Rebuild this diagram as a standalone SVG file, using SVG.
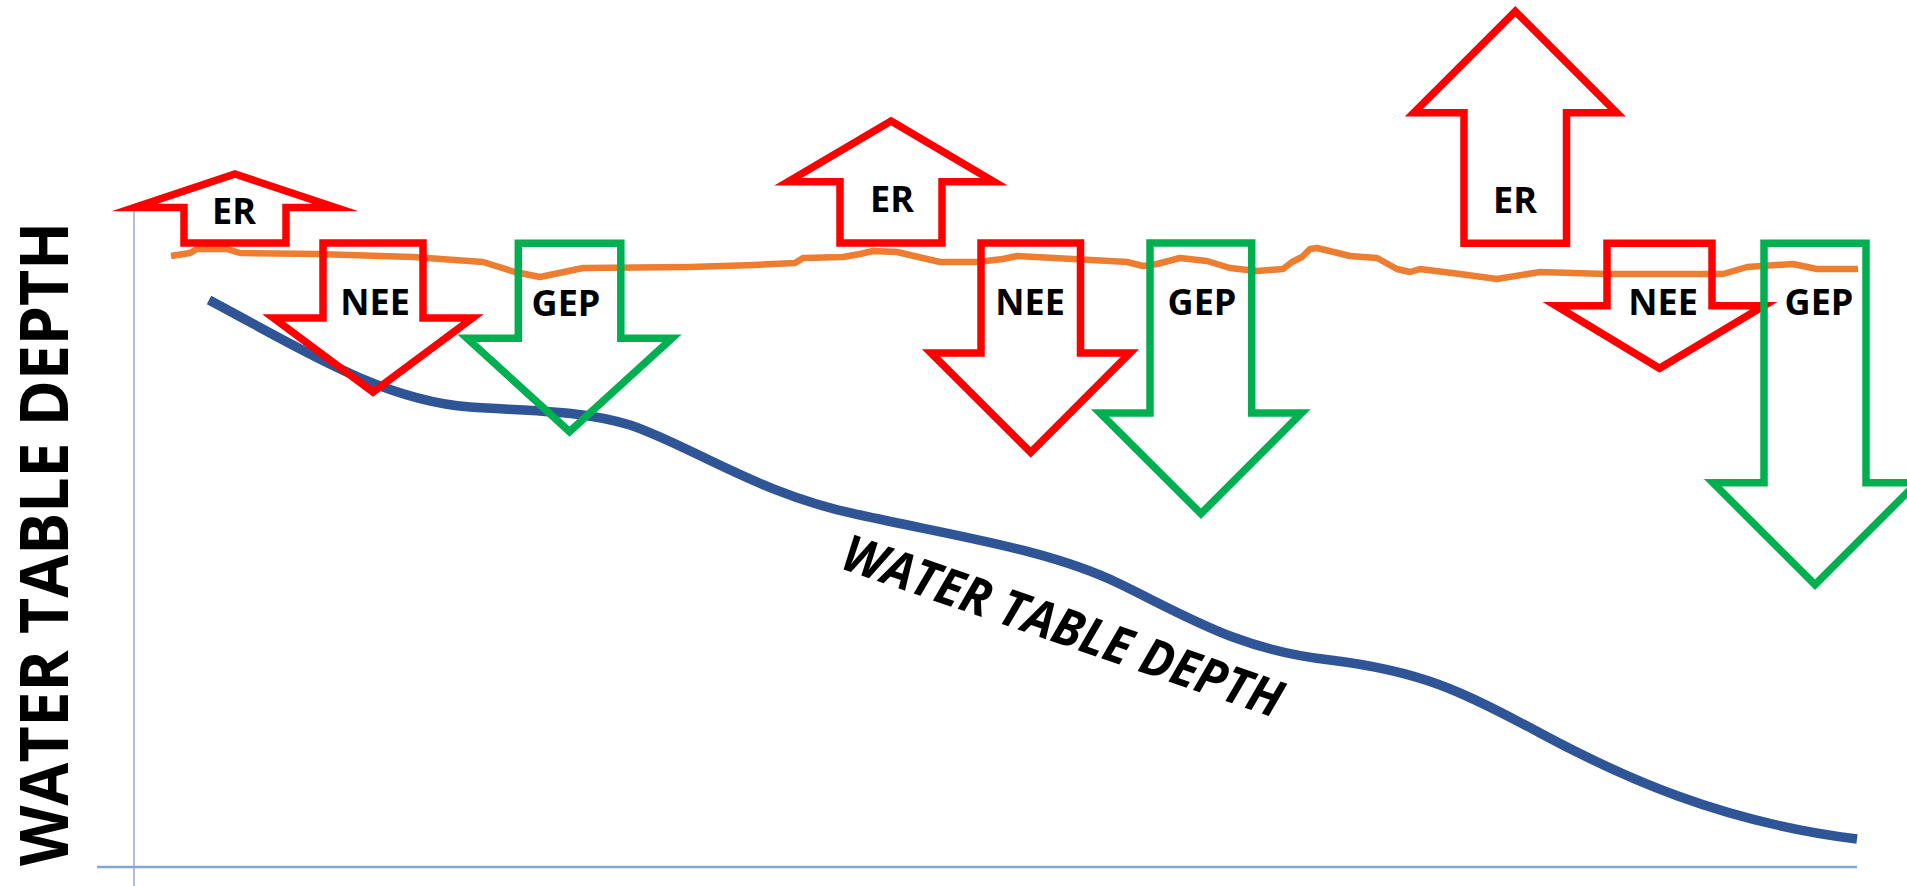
<svg xmlns="http://www.w3.org/2000/svg" width="1907" height="886" viewBox="0 0 1907 886">
<style>
.arrow{fill:none;stroke-width:7.5;stroke-linejoin:miter;stroke-miterlimit:12}
.red{stroke:#FF0000}
.green{stroke:#00B050}
.lbl{font-family:"Open Sans","Noto Sans","Liberation Sans",sans-serif;font-weight:700;font-size:36px;fill:#000;text-anchor:middle}
.big{font-family:"Open Sans","Noto Sans","Liberation Sans",sans-serif;font-weight:700;fill:#000;text-anchor:middle}
</style>
<rect width="1907" height="886" fill="#fff"/>
<g id="connectors">
  <line x1="134" y1="211" x2="134" y2="886" stroke="#8FAADC" stroke-width="1.5"/>
  <line x1="97" y1="867" x2="1857" y2="867" stroke="#85A5DB" stroke-width="2.5"/>
  <path id="water-table" d="M209,300 C300,348 380,400 470,407 C530,411 580,410 630,425 C690,445 760,495 860,515 C960,537 1050,550 1120,584 C1190,618 1240,650 1330,660 C1420,671 1460,690 1540,733 C1620,776 1720,822 1857,839" fill="none" stroke="#2F5597" stroke-width="9.5"/>
  <polyline id="surface" points="171,256 190,253 197,249 227,249 240,253 317,254 413,257 483,262 515,272 540,277 583,268 690,267 754,265 795,263 803,258 843,257 860,254 873,251 897,252 940,262 977,262 1003,259 1017,256 1110,261 1127,262 1143,266 1157,264 1180,258 1207,261 1230,268 1257,271 1283,269 1292,262 1302,257 1310,249 1317,248 1350,256 1377,258 1397,269 1410,272 1420,269 1460,274 1497,279 1540,272 1607,274 1723,274 1747,267 1793,264 1817,269 1858,269" fill="none" stroke="#ED7D31" stroke-width="6.5" stroke-linejoin="round"/>
</g>
<g id="er1">
  <polygon class="arrow red" points="235,174 335.5,207.5 286,207.5 286,243 184,243 184,207.5 134.5,207.5"/>
  <text class="lbl" x="234" y="224">ER</text>
</g>
<g id="nee1">
  <polygon class="arrow red" points="323,243 423,243 423,318 472.5,318 373,392 273.5,318 323,318"/>
  <text class="lbl" x="375" y="315">NEE</text>
</g>
<g id="gep1">
  <polygon class="arrow green" points="518.3,243.3 620.8,243.3 620.8,338.3 672,338.3 569.5,431.6 467,338.3 518.3,338.3"/>
  <text class="lbl" x="566" y="316">GEP</text>
</g>
<g id="er2">
  <polygon class="arrow red" points="891,121 994,181.7 942,181.7 942,243 840,243 840,181.7 788,181.7"/>
  <text class="lbl" x="892" y="212">ER</text>
</g>
<g id="nee2">
  <polygon class="arrow red" points="981,243 1080.5,243 1080.5,353 1130,353 1030.75,452.4 931,353 981,353"/>
  <text class="lbl" x="1030" y="315">NEE</text>
</g>
<g id="gep2">
  <polygon class="arrow green" points="1150,243 1251.7,243 1251.7,413 1301.6,413 1201,513.7 1100,413 1150,413"/>
  <text class="lbl" x="1202" y="315">GEP</text>
</g>
<g id="er3">
  <polygon class="arrow red" points="1515.3,11.3 1616.8,112.8 1566.5,112.8 1566.5,243.3 1464,243.3 1464,112.8 1413.8,112.8"/>
  <text class="lbl" x="1515" y="213">ER</text>
</g>
<g id="nee3">
  <polygon class="arrow red" points="1607,243.3 1712,243.3 1712,305.8 1764,305.8 1659.5,368.3 1556,305.8 1607,305.8"/>
  <text class="lbl" x="1663" y="315">NEE</text>
</g>
<g id="gep3">
  <polygon class="arrow green" points="1764,243.3 1866,243.3 1866,482.8 1917,482.8 1815,584.7 1713,482.8 1764,482.8"/>
  <text class="lbl" x="1819" y="315">GEP</text>
</g>
<g id="axis-label">
  <text class="big" font-size="66" textLength="644" lengthAdjust="spacingAndGlyphs" transform="translate(68,544) rotate(-90)">WATER TABLE DEPTH</text>
</g>
<g id="curve-label">
  <text class="big" font-size="51" font-style="italic" textLength="462" lengthAdjust="spacingAndGlyphs" transform="translate(1057,643) rotate(19)">WATER TABLE DEPTH</text>
</g>
</svg>
